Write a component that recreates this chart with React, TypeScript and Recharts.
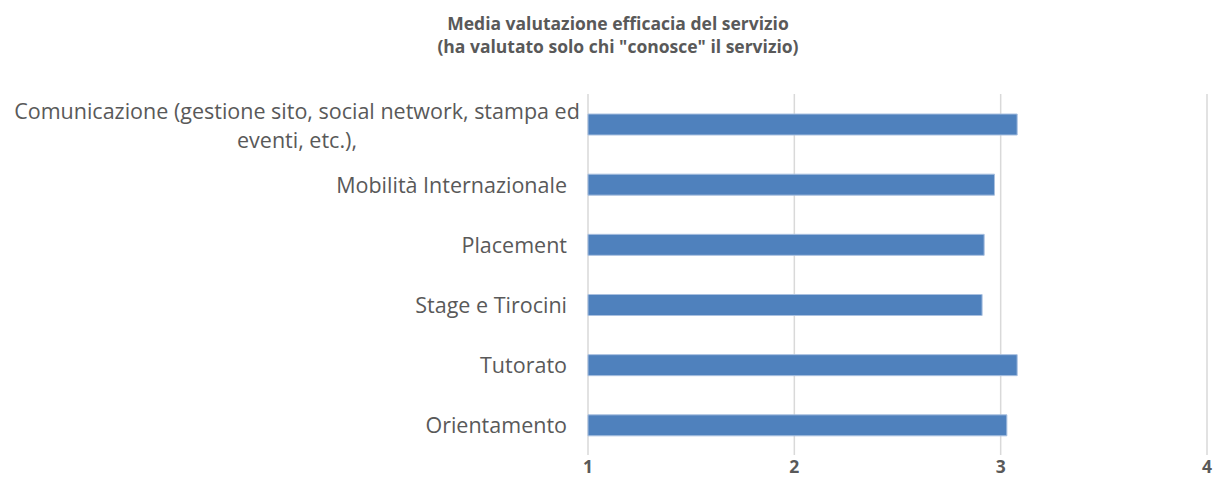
import React from 'react';
import { BarChart, Bar, XAxis, YAxis, CartesianGrid } from 'recharts';

const categories = [
  'Comunicazione (gestione sito, social network, stampa ed eventi, etc.),',
  'Mobilità Internazionale',
  'Placement',
  'Stage e Tirocini',
  'Tutorato',
  'Orientamento',
];
const mediaValues = [3.08, 2.97, 2.92, 2.91, 3.08, 3.03];
const xTicks = [1, 2, 3, 4];

const data = categories.map((name, i) => ({ name, value: mediaValues[i] }));

const FONT = '"Open Sans", Lato, sans-serif';
const TEXT = '#595959';
const MAX_CHARS = 56;

function wrap(label: string): string[] {
  const words = label.split(' ');
  const lines: string[] = [];
  let cur = '';
  words.forEach(w => {
    const next = cur ? cur + ' ' + w : w;
    if (next.length > MAX_CHARS && cur) {
      lines.push(cur);
      cur = w;
    } else {
      cur = next;
    }
  });
  if (cur) lines.push(cur);
  return lines;
}

function CategoryTick(props: any) {
  const { x, y, payload } = props;
  const lines = wrap(payload.value);
  if (lines.length === 1) {
    return (
      <text x={x - 13} y={y} textAnchor="end" dominantBaseline="central"
        fontFamily={FONT} fontSize={21.5} fill={TEXT}>
        {payload.value}
      </text>
    );
  }
  // wrapped labels are centred on their own block, like Excel does
  const lh = 29;
  const top = y - ((lines.length - 1) * lh) / 2;
  return (
    <text x={x - 283} textAnchor="middle" dominantBaseline="central"
      fontFamily={FONT} fontSize={21.5} fill={TEXT}>
      {lines.map((l, i) => (
        <tspan key={i} x={x - 283} y={top + i * lh}>{l}</tspan>
      ))}
    </text>
  );
}

function ValueTick(props: any) {
  const { x, payload } = props;
  return (
    <text x={x} y={466} textAnchor="middle" dominantBaseline="central"
      fontFamily={FONT} fontSize={17.5} fontWeight="bold" fill={TEXT}>
      {payload.value}
    </text>
  );
}

export default function App() {
  return (
    <div style={{ position: 'absolute', left: 0, top: 0, width: 1214, height: 493, background: '#fff' }}>
      <div style={{
        position: 'absolute', left: 0, width: 1214, top: 12, textAlign: 'center',
        fontFamily: FONT, fontWeight: 'bold', fontSize: 17.5, color: TEXT, lineHeight: '23px',
        paddingLeft: 22, boxSizing: 'border-box',
      }}>
        <div>Media valutazione efficacia del servizio</div>
        <div>(ha valutato solo chi "conosce" il servizio)</div>
      </div>
      <BarChart
        width={1214}
        height={493}
        data={data}
        layout="vertical"
        margin={{ top: 94, right: 7, bottom: 0, left: 0 }}
        barSize={21}
      >
        <CartesianGrid horizontal={false} vertical stroke="#d9d9d9" strokeWidth={1.5} />
        <XAxis
          type="number"
          domain={[1, 4]}
          ticks={xTicks}
          axisLine={false}
          tickLine={false}
          height={38}
          tick={<ValueTick />}
          interval={0}
        />
        <YAxis
          type="category"
          dataKey="name"
          width={588}
          axisLine={false}
          tickLine={false}
          tick={<CategoryTick />}
          interval={0}
        />
        <Bar dataKey="value" fill="#4F81BD" stroke="#a9c0e0" strokeWidth={1} isAnimationActive={false} />
      </BarChart>
    </div>
  );
}
